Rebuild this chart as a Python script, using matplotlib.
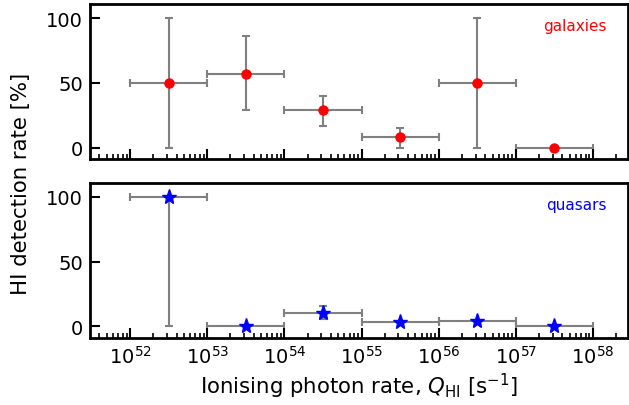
import numpy as np
import matplotlib
matplotlib.use("Agg")
import matplotlib.pyplot as plt

# bin edges (log10 Q_HI)
bin_lo = [52, 53, 54, 55, 56, 57]
bin_hi = [53, 54, 55, 56, 57, 58]

# galaxies: detection rate and lower / upper bounds [%]
gal_rate = [50, 57, 29, 8, 50, 0]
gal_low = [0, 29, 17, 0, 0, 0]
gal_up = [100, 86, 40, 15, 100, 0]

# quasars
qso_rate = [100, 0, 10, 3, 4, 0]
qso_low = [0, 0, 6, 3, 4, 0]
qso_up = [100, 0, 16, 3, 4, 0]

plt.rcParams['font.size'] = 14
plt.rcParams['axes.linewidth'] = 2

fig, (ax1, ax2) = plt.subplots(2, 1, figsize=(6.29, 4.06), dpi=100)
fig.subplots_adjust(left=0.143, right=0.998, top=0.988, bottom=0.165, hspace=0.15)

xc = 10 ** ((np.array(bin_lo) + np.array(bin_hi)) / 2)
xerr = [xc - 10.0 ** np.array(bin_lo), 10.0 ** np.array(bin_hi) - xc]


def panel(ax, rate, low, up, marker, ms, color, name):
    rate = np.array(rate)
    yerr = [rate - np.array(low), np.array(up) - rate]
    ax.errorbar(xc, rate, xerr=xerr, yerr=yerr, fmt='none', ecolor='grey',
                elinewidth=1.5, capsize=3, capthick=1.5, zorder=1)
    ax.plot(xc, rate, marker, color=color, ms=ms, ls='none', zorder=2)
    ax.set_xscale('log')
    ax.set_xlim(10 ** 51.48, 10 ** 58.45)
    ax.set_ylim(-9, 111)
    ax.set_yticks([0, 50, 100])
    ax.tick_params(which='major', direction='in', length=7, width=1.5, pad=5)
    ax.tick_params(which='minor', direction='in', length=3.5, width=1.2)
    ax.set_xticks([10.0 ** k for k in range(52, 59)])
    ax.text(0.96, 0.86, name, color=color, fontsize=11, ha='right', va='center',
            transform=ax.transAxes)


panel(ax1, gal_rate, gal_low, gal_up, 'o', 6.5, 'red', 'galaxies')
panel(ax2, qso_rate, qso_low, qso_up, '*', 11, 'blue', 'quasars')

ax1.tick_params(axis='x', which='both', labelbottom=False)
ax2.set_xlabel(r'Ionising photon rate, $Q_{\rm HI}$ [s$^{-1}$]', fontsize=15.3, labelpad=3)
fig.text(0.033, 0.548, 'HI detection rate [%]', rotation=90, ha='center', va='center',
         fontsize=15.3)

fig.savefig('out.png')
